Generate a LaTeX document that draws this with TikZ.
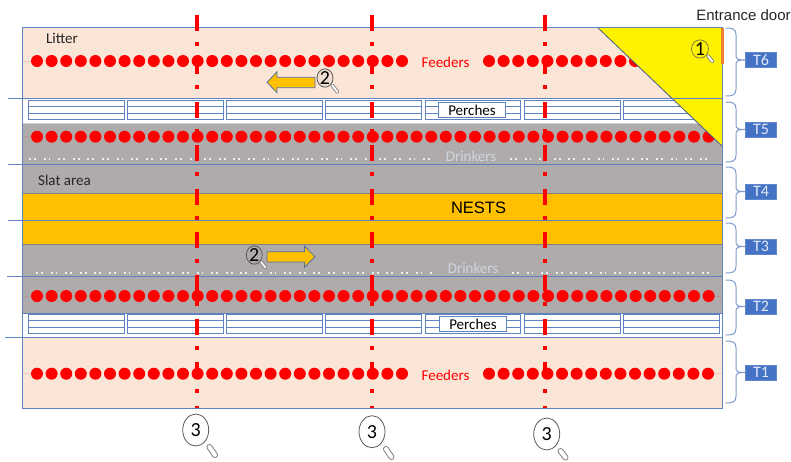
\documentclass[tikz,border=0pt]{standalone}
\usepackage{fontspec}
\setmainfont{Carlito}
\newfontfamily\arialfont{Liberation Sans}
\usetikzlibrary{shapes.geometric}
\definecolor{peach}{HTML}{FBE5D6}
\definecolor{slat}{HTML}{AFABAB}
\definecolor{nest}{HTML}{FFC000}
\definecolor{edgeblue}{HTML}{5F83C0}
\definecolor{boxblue}{HTML}{4472C4}
\definecolor{doorc}{HTML}{ED7D31}
\definecolor{drinktxt}{HTML}{CFD5E0}
\newcommand{\fsz}[1]{\fontsize{#1}{#1}\selectfont}
% one perch unit: x1, y1, x2, y2
\newcommand{\perchunit}[4]{%
  \draw[perchline] (#1,#2) rectangle (#3,#4);
  \draw[perchline] (#1,{#2+(#4-#2)/3}) -- (#3,{#2+(#4-#2)/3});
  \draw[perchline] (#1,{#2+2*(#4-#2)/3}) -- (#3,{#2+2*(#4-#2)/3});
}
% brace: y top, y mid, y bottom, label, name
\newcommand{\tbrace}[5]{%
  \node[tbox] (#5) at (761,#2) {#4};
  \coordinate (#5a) at (725.5,#1);
  \coordinate (#5b) at (725.5,#3);
  \draw[bracel] (#5a) .. controls (733,#1) and (736,{#1+1}) .. (736,{#1+7})
    -- (736,{#2-3}) .. controls (736,{#2-1}) and (738,#2) .. (#5.west)
    (736,{#3-7}) -- (736,{#2+3}) .. controls (736,{#2+1}) and (738,#2) .. (#5.west)
    (736,{#3-7}) .. controls (736,{#3-1}) and (733,#3) .. (#5b);
}
% magnifier handle: outer width, inner width, x1, y1, x2, y2
\newcommand{\handle}[6]{%
  \draw[line width=#1,black!50,line cap=round] (#3,#4) -- (#5,#6);
  \draw[line width=#2,white,line cap=round] (#3,#4) -- (#5,#6);
}
\tikzset{
  perchline/.style={edgeblue,line width=0.8pt},
  bandline/.style={edgeblue,line width=1pt},
  tbox/.style={fill=boxblue,draw=boxblue!85!white,minimum width=31pt,minimum height=15pt,inner sep=0pt,text=white!85!boxblue,font=\fsz{16}},
  bracel/.style={edgeblue!80!white,line width=1pt},
  reddot/.style={fill=red},
  faint/.style={red!12!peach,line width=0.5pt},
  faintg/.style={red!12!slat,line width=0.5pt},
  label/.style={inner sep=0pt,text=black!85,font=\fsz{15}},
  perchlab/.style={fill=white,draw=edgeblue,line width=0.8pt,minimum width=67pt,minimum height=15pt,inner sep=0pt,font=\fsz{15}},
  drinkdot/.style={white!80!slat,line width=1.8pt,dash pattern=on 1.9pt off 3pt on 1.9pt off 7.8pt},
  sect/.style={red,line width=3.4pt,dash pattern=on 16pt off 11pt on 4pt off 12.4pt},
  wayarrow/.style={fill=nest,draw=edgeblue!85!black,line width=0.8pt},
  lens/.style={ellipse,draw=black!65,line width=0.8pt,inner sep=0pt,font=\fsz{20}},
}
\begin{document}
\begin{tikzpicture}[x=1pt,y=-1pt]
\useasboundingbox (0,0) rectangle (791,461);
% bands
\fill[peach] (22,27) rectangle (722,98);
\fill[white] (22,98) rectangle (722,124);
\fill[slat] (22,124) rectangle (722,193);
\fill[nest] (22,193) rectangle (722,244);
\fill[slat] (22,244) rectangle (722,313);
\fill[white] (22,313) rectangle (722,337);
\fill[peach] (22,337) rectangle (722,408);
\draw[black!50,line width=1pt] (22,193) -- (722,193) (22,244) -- (722,244);
\draw[black!18,line width=1pt] (22,123.5) -- (722,123.5);
\draw[edgeblue,line width=0.8pt] (22,313) -- (722,313);
% perches
\foreach \a/\b in {28/124,127.5/223,226.5/322.5,325.5/421.5,425/520,524.3/620.5,623.3/719}{
  \perchunit{\a}{100}{\b}{119.5}
  \perchunit{\a}{314}{\b}{333.7}
}
\node[perchlab] (perchtop) at (472,110) {Perches};
\node[perchlab] (perchbot) at (473,324) {Perches};
% faint feeder lines
\draw[faint] (22,61) -- (37,61) (22,373.7) -- (37,373.7);
\draw[faintg] (22,136.7) -- (37,136.7) (22,296) -- (37,296);
\draw[faint] (708,373.7) -- (722,373.7);
\draw[faintg] (708,296) -- (722,296);
% red dots
\foreach \n in {0,...,25}{
  \fill[reddot] ({37+14.6*\n},61) circle (6);
  \fill[reddot] ({37+14.6*\n},373.7) circle (6);
}
\foreach \n in {0,...,15}{
  \fill[reddot] ({489+14.6*\n},61) circle (6);
  \fill[reddot] ({489+14.6*\n},373.7) circle (6);
}
\foreach \n in {0,...,46}{
  \fill[reddot] ({37+14.6*\n},136.7) circle (6);
  \fill[reddot] ({37+14.6*\n},296) circle (6);
}
% drinkers
\draw[drinkdot] (29,159.3) -- (431,159.3);
\draw[drinkdot] (510,159.3) -- (708,159.3);
\draw[drinkdot] (36,273.3) -- (433,273.3);
\draw[drinkdot] (512,273.3) -- (711,273.3);
% door area
\fill[yellow] (597,27) -- (722,27) -- (722,146) -- cycle;
\draw[edgeblue!70!black,line width=0.8pt] (597,27) -- (722,146);
% horizontal and outer lines
\draw[bandline] (8,98) -- (722,98);
\draw[bandline] (8,164) -- (722,164);
\draw[bandline] (8,220) -- (722,220);
\draw[bandline] (7,276) -- (722,276);
\draw[bandline] (5,337.3) -- (722,337.3);
\draw[edgeblue,line width=0.9pt] (22,27) rectangle (722,408);
\draw[doorc,line width=3pt] (722,27.5) -- (722,64);
% section lines
\foreach \x in {197,372,545}{
  \draw[sect] (\x,15) -- (\x,408);
}
% texts
\node[label] (litter) at (62,38) {Litter};
\node[label] (slatarea) at (64.5,180) {Slat area};
\node[label,red] (feedtop) at (445.5,62) {Feeders};
\node[label,red] (feedbot) at (445.5,375) {Feeders};
\node[label,drinktxt] (drinktop) at (471,156.5) {Drinkers};
\node[label,drinktxt] (drinkbot) at (473,268) {Drinkers};
\node[inner sep=0pt,font=\arialfont\fsz{16.5}] (nests) at (478.5,208) {NESTS};
\node[inner sep=0pt,text=black!85,font=\arialfont\fsz{15}] (door) at (743.5,15.5) {Entrance door};
% arrows
\draw[wayarrow] (267,82.3) -- (277,71.7) -- (277,77.3) -- (315,77.3) -- (315,87.7) -- (277,87.7) -- (277,92.7) -- cycle;
\draw[wayarrow] (315,256.7) -- (304.5,246) -- (304.5,251.7) -- (267,251.7) -- (267,262) -- (304.5,262) -- (304.5,267.3) -- cycle;
% magnifiers
\handle{3.6pt}{1.8pt}{708}{56}{712.5}{61.5}
\node[lens,minimum width=17pt,minimum height=17pt,draw=black!55!yellow] (lensone) at (700,49) {1};
\handle{3.6pt}{1.8pt}{332}{85}{337.5}{92}
\node[lens,minimum width=16pt,minimum height=16pt,fill=slat!15!peach] (lenstwoa) at (325,78) {2};
\handle{3.6pt}{1.8pt}{261}{262}{265.5}{267.5}
\node[lens,minimum width=16pt,minimum height=17pt,fill=slat] (lenstwob) at (254.3,255) {2};
\handle{6pt}{4pt}{209.5}{447}{215}{455}
\node[lens,minimum width=26pt,minimum height=32pt,fill=white] (lensthreea) at (195.7,430) {3};
\handle{6pt}{4pt}{386}{449}{391.5}{457}
\node[lens,minimum width=26pt,minimum height=32pt,fill=white] (lensthreeb) at (372,431.7) {3};
\handle{6pt}{4pt}{560.5}{451}{565.5}{457.5}
\node[lens,minimum width=26pt,minimum height=32pt,fill=white] (lensthreec) at (546.7,434) {3};
% braces
\tbrace{28}{60}{96}{T6}{tsix}
\tbrace{102}{129.5}{162}{T5}{tfive}
\tbrace{167}{191.5}{218}{T4}{tfour}
\tbrace{223}{246.5}{273}{T3}{tthree}
\tbrace{280}{306.5}{335}{T2}{ttwo}
\tbrace{341}{372.5}{403}{T1}{tone}
\end{tikzpicture}
\end{document}
